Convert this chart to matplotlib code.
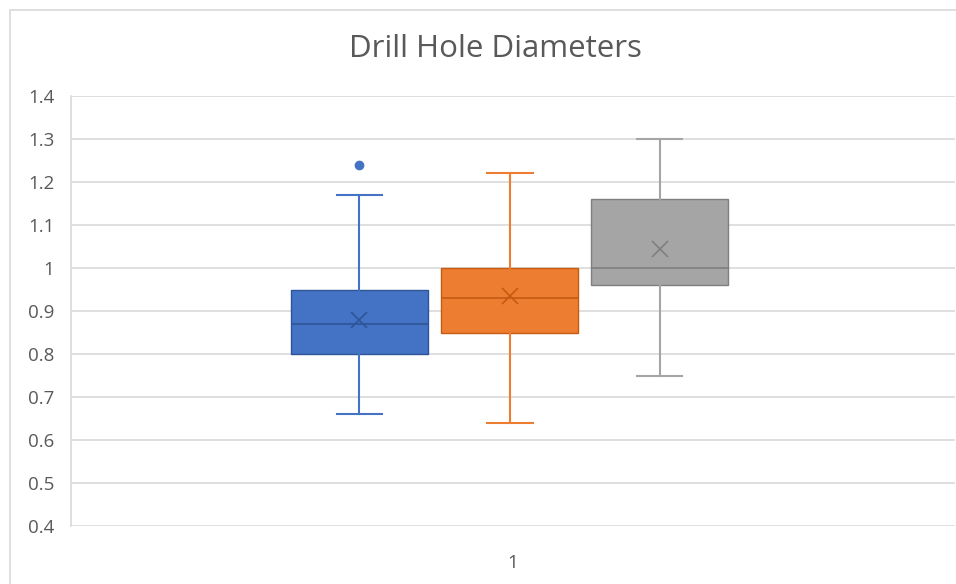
import matplotlib
matplotlib.use("Agg")
import matplotlib.pyplot as plt
from matplotlib.patches import Rectangle

# Five-number summaries, means and outliers for each drill series
series_names = ["Series 1", "Series 2", "Series 3"]
whisker_low = [0.66, 0.64, 0.75]
q1 = [0.80, 0.85, 0.96]
median = [0.87, 0.93, 1.00]
q3 = [0.95, 1.00, 1.16]
whisker_high = [1.17, 1.22, 1.30]
means = [0.878, 0.936, 1.044]
outliers = [[1.24], [], []]

category_labels = ["1"]
y_ticks = [0.4, 0.5, 0.6, 0.7, 0.8, 0.9, 1.0, 1.1, 1.2, 1.3, 1.4]
y_tick_labels = ["0.4", "0.5", "0.6", "0.7", "0.8", "0.9", "1", "1.1", "1.2", "1.3", "1.4"]

fill_colors = ["#4472C4", "#ED7D31", "#A5A5A5"]
dark_colors = ["#2F5597", "#C55A11", "#7F7F7F"]
text_color = "#595959"
grid_color = "#D9D9D9"

plt.rcParams["font.family"] = ["Open Sans", "DejaVu Sans"]

fig = plt.figure(figsize=(9.56, 5.84), dpi=100)
fig.patch.set_facecolor("white")

# chart-area border
fig.patches.append(Rectangle((10 / 956, -0.1), 1.2, 1 - 10 / 584 + 0.1,
                             transform=fig.transFigure, fill=False,
                             edgecolor="#D9D9D9", linewidth=1.2))

ax = fig.add_axes([71 / 956, 1 - 526 / 584, (955 - 71) / 956, (526 - 96) / 584])

offsets = [-0.174, -0.0035, 0.166]
box_width = 0.155
for i in range(len(series_names)):
    stats = [{
        "whislo": whisker_low[i], "q1": q1[i], "med": median[i], "q3": q3[i],
        "whishi": whisker_high[i], "mean": means[i], "fliers": outliers[i],
    }]
    ax.bxp(stats, positions=[1 + offsets[i]], widths=box_width,
           patch_artist=True, showmeans=True, showcaps=True,
           boxprops=dict(facecolor=fill_colors[i], edgecolor=dark_colors[i], linewidth=1.0),
           medianprops=dict(color=dark_colors[i], linewidth=1.2),
           whiskerprops=dict(color=fill_colors[i], linewidth=1.5),
           capprops=dict(color=fill_colors[i], linewidth=1.5),
           capwidths=box_width * 0.33,
           meanprops=dict(marker="x", markeredgecolor=dark_colors[i],
                          markersize=11, markeredgewidth=1.2),
           flierprops=dict(marker="o", markerfacecolor=fill_colors[i],
                           markeredgecolor=fill_colors[i], markersize=6),
           zorder=3)

ax.set_xlim(0.5, 1.5)
ax.set_ylim(0.4, 1.4)
ax.set_yticks(y_ticks)
ax.set_yticklabels(y_tick_labels)
ax.set_xticks([1])
ax.set_xticklabels(category_labels)

ax.yaxis.grid(True, color=grid_color, linewidth=1.2)
ax.set_axisbelow(True)
for side in ["top", "right", "bottom"]:
    ax.spines[side].set_visible(False)
ax.spines["left"].set_color(grid_color)
ax.spines["left"].set_linewidth(1.2)
ax.tick_params(axis="both", length=0, colors=text_color, labelsize=13.5)
ax.tick_params(axis="y", pad=12)
ax.tick_params(axis="x", pad=20)

fig.text((71 + 955) / 2 / 956 - 0.018, 1 - 49 / 584, "Drill Hole Diameters",
         ha="center", va="center", fontsize=22.5, color=text_color)

fig.savefig("out.png", dpi=100, facecolor="white")
